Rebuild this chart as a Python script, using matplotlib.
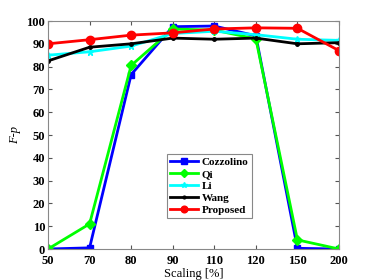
import matplotlib.pyplot as plt

scales = ['50', '70', '80', '90', '110', '120', '150', '200']
cozzolino = [0, 0.5, 76.5, 97.5, 97.8, 93.5, 0.3, 0]
qi = [0, 11, 80.5, 96.5, 96, 92.2, 4, 0]
li = [85, 86.5, 89, 94.5, 95.5, 94, 92, 91.5]
wang = [82.5, 88.5, 90, 92.5, 92, 92.5, 90, 90.5]
proposed = [90, 91.8, 93.8, 94.8, 96.5, 97, 96.8, 87]

plt.rcParams['font.family'] = 'Liberation Serif'
plt.rcParams['font.weight'] = 'bold'

fig = plt.figure(figsize=(3.74, 2.80), dpi=100)
ax = fig.add_axes([48/374, 31/280, 291/374, 228/280])
x = range(len(scales))

ax.plot(x, cozzolino, color='#0000ff', marker='s', lw=2, ms=5, label='Cozzolino')
ax.plot(x, qi, color='#00ff00', marker='D', lw=2, ms=5, label='Qi')
ax.plot(x, li, color='#00ffff', marker='*', lw=2, ms=5, label='Li')
ax.plot(x, wang, color='black', marker='.', lw=2, ms=5, label='Wang')
ax.plot(x, proposed, color='#ff0000', marker='o', lw=2, ms=6, label='Proposed')

ax.set_xlim(0, len(scales) - 1)
ax.set_ylim(0, 100)
ax.set_xticks(list(x))
ax.set_xticklabels(scales)
ax.set_yticks(range(0, 101, 10))
ax.tick_params(direction='in', top=True, right=True, labelsize=9, length=3,
               color='#555555')
ax.tick_params(axis='x', pad=4)
ax.tick_params(axis='y', pad=2)
for s in ax.spines.values():
    s.set_color('#888888')
    s.set_linewidth(0.8)

ax.set_xlabel('Scaling [%]', fontsize=9, labelpad=1)
ax.set_ylabel('F-p', fontsize=9, style='italic')

leg = ax.legend(loc='lower left', bbox_to_anchor=(0.39, 0.11), fontsize=8,
                fancybox=False, framealpha=1, edgecolor='#888888',
                handlelength=2.5, borderpad=0.3, labelspacing=0.2,
                handletextpad=0.3, markerscale=0.8)
leg.get_frame().set_linewidth(0.8)

fig.savefig('out.png', dpi=100)
